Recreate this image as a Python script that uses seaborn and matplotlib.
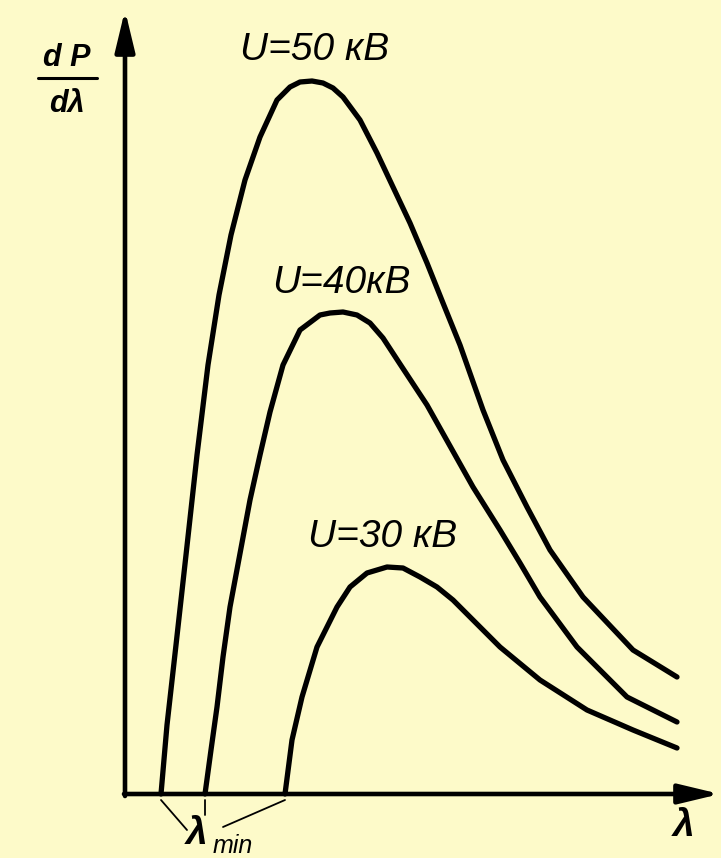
import numpy as np
import pandas as pd
import matplotlib
matplotlib.use('Agg')
import matplotlib.pyplot as plt
import seaborn as sns

# 读取的数据（λ 任意单位，dP/dλ 任意单位）
lam_50 = [3.6, 4.2, 5.1, 6.1, 7.2, 8.3, 9.4, 10.6, 12.0, 13.5, 15.2, 16.5, 17.5, 18.7, 19.8, 20.8, 21.8,
          23.5, 25.2, 26.8, 28.5, 30.2, 31.8, 33.5, 35.8, 37.8, 40.2, 42.5, 45.8, 50.8, 55.2]
int_50 = [0.0, 6.9, 14.9, 23.9, 33.9, 42.9, 49.9, 55.9, 61.4, 65.7, 69.4, 70.7, 71.2, 71.3, 71.1, 70.6, 69.7,
          67.4, 64.1, 60.7, 57.1, 53.1, 49.1, 44.9, 38.4, 33.4, 28.7, 24.4, 19.7, 14.4, 11.7]

lam_40 = [8.0, 8.6, 9.2, 9.8, 10.5, 12.5, 13.5, 14.5, 15.8, 17.5, 19.5, 20.5, 21.8, 23.2, 24.5, 25.8, 27.5,
          30.2, 32.5, 34.8, 37.5, 39.5, 41.5, 45.2, 50.2, 55.2]
int_40 = [0.0, 4.4, 8.7, 13.7, 18.7, 29.4, 33.9, 38.2, 42.9, 46.4, 47.9, 48.1, 48.2, 47.9, 47.1, 45.6, 43.0,
          38.9, 34.8, 30.7, 26.4, 23.1, 19.7, 14.7, 9.7, 7.2]

lam_30 = [16.0, 16.7, 17.7, 19.2, 21.2, 22.5, 24.2, 26.2, 27.8, 29.5, 31.2, 32.8, 35.5, 37.5, 41.5, 46.2,
          50.8, 55.2]
int_30 = [0.0, 5.4, 9.7, 14.7, 18.7, 20.7, 22.1, 22.7, 22.6, 21.7, 20.7, 19.4, 16.7, 14.7, 11.4, 8.4,
          6.4, 4.6]

curve_labels = ['U=50 кВ', 'U=40кВ', 'U=30 кВ']
label_pos = [(19.0, 74.4), (21.6, 51.1), (25.8, 25.7)]

bg = '#FDFAC9'
sns.set_theme(style='white', rc={'figure.facecolor': bg, 'axes.facecolor': bg})
plt.rcParams['font.family'] = ['Liberation Sans', 'DejaVu Sans']
plt.rcParams['text.color'] = 'black'

fig = plt.figure(figsize=(7.21, 8.58), dpi=100)
ax = fig.add_axes([0, 0, 1, 1])

# 曲线
for lam, val in [(lam_50, int_50), (lam_40, int_40), (lam_30, int_30)]:
    sns.lineplot(x=lam, y=val, sort=False, estimator=None, color='black', lw=3.8, ax=ax,
                 solid_joinstyle='round', solid_capstyle='round')

# 坐标轴箭头
arrow = dict(arrowstyle='-|>,head_length=1.25,head_width=0.3', lw=3.3, color='black',
             mutation_scale=20, shrinkA=0, shrinkB=0)
ax.annotate('', xy=(0, 78.4), xytext=(0, -0.2), arrowprops=arrow)
ax.annotate('', xy=(59.5, 0), xytext=(-0.1, 0), arrowprops=arrow)

# 曲线标签
for txt, (x, y) in zip(curve_labels, label_pos):
    ax.text(x, y, txt, fontsize=28, style='italic', ha='center', va='center')

# 纵轴标签 dP/dλ
ax.text(-5.8, 73.6, 'd P', fontsize=22, style='italic', weight='bold', ha='center', va='center')
ax.plot([-8.7, -2.8], [71.6, 71.6], color='black', lw=2.2)
ax.text(-5.8, 69.0, 'dλ', fontsize=22, style='italic', weight='bold', ha='center', va='center')

# 横轴标签
ax.text(55.9, -3.2, 'λ', fontsize=28, style='italic', weight='bold', ha='center', va='center')

# λ_min 指示线
lam_min = [lam_50[0], lam_40[0], lam_30[0]]
ends = [(6.2, -3.6), (8.0, -2.1), (9.8, -3.3)]
for x0, (x1, y1) in zip(lam_min, ends):
    ax.plot([x0, x1], [-0.6, y1], color='black', lw=1.3)
ax.text(7.2, -4.0, 'λ', fontsize=28, style='italic', weight='bold', ha='center', va='center')
ax.text(8.8, -5.9, 'min', fontsize=18, style='italic', ha='left', va='baseline')

ax.set_xlim(-12.5, 59.6)
ax.set_ylim(-6.4, 79.4)
ax.axis('off')

fig.savefig('out.png', dpi=100, facecolor=bg)
